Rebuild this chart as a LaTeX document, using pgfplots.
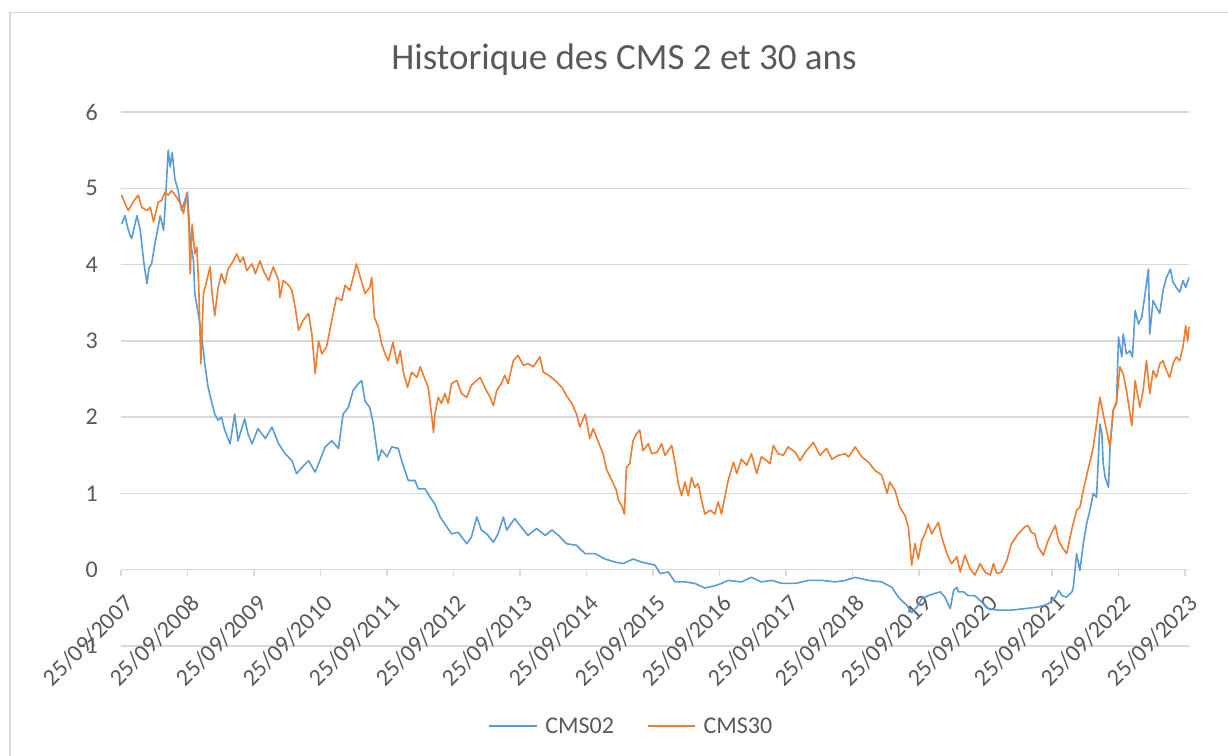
\documentclass[border=0pt]{standalone}
\usepackage{fontspec}
\setmainfont{Carlito}
\usepackage{pgfplots}
\pgfplotsset{compat=1.18}
\usepackage{pgfplotstable}
\definecolor{cmsblue}{HTML}{5B9BD5}
\definecolor{cmsorange}{HTML}{ED7D31}
\definecolor{gridgray}{HTML}{D9D9D9}
\definecolor{txtgray}{HTML}{595959}

% x = years since 25/09/2007
\pgfplotstableread{
x y
0.01 4.53
0.06 4.64
0.11 4.45
0.16 4.34
0.24 4.64
0.29 4.45
0.34 4.05
0.39 3.75
0.42 3.95
0.46 4.01
0.51 4.27
0.59 4.64
0.64 4.45
0.66 4.71
0.71 5.50
0.74 5.28
0.77 5.47
0.81 5.12
0.86 4.97
0.91 4.71
0.96 4.84
1.00 4.95
1.04 4.32
1.09 4.05
1.11 3.62
1.16 3.36
1.21 3.09
1.26 2.70
1.31 2.39
1.36 2.21
1.41 2.04
1.46 1.96
1.51 2.00
1.56 1.83
1.64 1.65
1.71 2.04
1.76 1.69
1.86 1.98
1.91 1.78
1.97 1.65
2.06 1.85
2.17 1.72
2.27 1.87
2.37 1.65
2.47 1.52
2.57 1.43
2.64 1.26
2.72 1.34
2.82 1.43
2.92 1.28
2.99 1.43
3.07 1.61
3.17 1.69
3.27 1.59
3.34 2.04
3.42 2.13
3.49 2.35
3.57 2.44
3.62 2.48
3.67 2.21
3.74 2.13
3.79 1.93
3.87 1.43
3.92 1.57
4.00 1.48
4.07 1.61
4.17 1.59
4.22 1.43
4.32 1.17
4.42 1.17
4.47 1.06
4.57 1.06
4.65 0.95
4.72 0.86
4.80 0.69
4.87 0.60
4.97 0.47
5.07 0.49
5.20 0.34
5.27 0.43
5.35 0.69
5.42 0.52
5.50 0.47
5.60 0.36
5.67 0.47
5.75 0.69
5.80 0.52
5.92 0.67
6.00 0.58
6.12 0.45
6.25 0.54
6.38 0.45
6.48 0.52
6.58 0.45
6.70 0.34
6.85 0.32
6.98 0.21
7.13 0.21
7.28 0.14
7.43 0.10
7.55 0.08
7.70 0.14
7.83 0.10
7.98 0.07
8.03 0.06
8.11 -0.05
8.23 -0.03
8.33 -0.16
8.48 -0.16
8.63 -0.18
8.78 -0.24
8.93 -0.21
9.03 -0.18
9.13 -0.14
9.33 -0.16
9.48 -0.10
9.63 -0.16
9.79 -0.14
9.94 -0.18
10.14 -0.18
10.34 -0.14
10.54 -0.14
10.74 -0.16
10.89 -0.14
11.04 -0.10
11.24 -0.14
11.44 -0.16
11.59 -0.23
11.69 -0.36
11.82 -0.47
11.89 -0.56
11.97 -0.49
12.04 -0.38
12.09 -0.36
12.14 -0.34
12.24 -0.31
12.32 -0.29
12.39 -0.36
12.47 -0.51
12.52 -0.27
12.57 -0.23
12.59 -0.29
12.67 -0.29
12.74 -0.34
12.84 -0.34
12.94 -0.42
13.04 -0.51
13.19 -0.53
13.39 -0.53
13.59 -0.51
13.79 -0.49
13.94 -0.45
14.05 -0.36
14.10 -0.27
14.15 -0.34
14.22 -0.36
14.30 -0.29
14.32 -0.23
14.37 0.21
14.42 -0.01
14.47 0.34
14.52 0.60
14.57 0.78
14.62 1.00
14.67 0.95
14.70 1.52
14.72 1.91
14.75 1.78
14.77 1.39
14.80 1.21
14.85 1.08
14.87 1.56
14.92 2.09
14.97 2.20
15.00 3.05
15.05 2.79
15.07 3.09
15.12 2.83
15.17 2.87
15.21 2.79
15.25 3.40
15.30 3.22
15.35 3.31
15.40 3.62
15.45 3.94
15.47 3.09
15.52 3.53
15.57 3.44
15.62 3.36
15.67 3.66
15.72 3.83
15.78 3.94
15.82 3.77
15.87 3.70
15.92 3.64
15.97 3.79
16.01 3.70
16.06 3.83
}\cmsdeux

\pgfplotstableread{
x y
0.01 4.91
0.06 4.80
0.11 4.71
0.18 4.82
0.26 4.91
0.31 4.75
0.39 4.71
0.44 4.75
0.49 4.56
0.56 4.82
0.61 4.84
0.66 4.95
0.71 4.91
0.76 4.97
0.84 4.88
0.89 4.80
0.94 4.67
0.99 4.93
1.02 4.53
1.04 3.88
1.07 4.53
1.11 4.14
1.14 4.23
1.17 3.70
1.20 2.70
1.24 3.62
1.29 3.79
1.34 3.97
1.37 3.62
1.41 3.33
1.46 3.70
1.51 3.88
1.56 3.75
1.61 3.94
1.69 4.05
1.74 4.14
1.79 4.03
1.84 4.10
1.89 3.92
1.97 4.01
2.02 3.88
2.09 4.05
2.14 3.92
2.22 3.79
2.29 3.97
2.37 3.79
2.39 3.57
2.44 3.79
2.52 3.73
2.57 3.66
2.62 3.44
2.67 3.14
2.74 3.27
2.82 3.36
2.87 3.09
2.92 2.57
2.97 3.00
3.02 2.83
3.09 2.92
3.17 3.27
3.24 3.57
3.32 3.53
3.37 3.73
3.44 3.66
3.49 3.83
3.54 4.01
3.59 3.86
3.67 3.62
3.74 3.70
3.77 3.83
3.81 3.31
3.87 3.18
3.92 2.96
3.97 2.83
4.02 2.74
4.09 2.98
4.15 2.70
4.20 2.87
4.25 2.57
4.31 2.39
4.37 2.59
4.45 2.52
4.50 2.66
4.57 2.50
4.62 2.39
4.65 2.18
4.70 1.80
4.72 2.04
4.77 2.26
4.82 2.18
4.87 2.31
4.92 2.18
4.97 2.44
5.05 2.48
5.12 2.31
5.20 2.26
5.27 2.42
5.40 2.52
5.47 2.39
5.55 2.26
5.60 2.15
5.65 2.35
5.72 2.44
5.77 2.55
5.82 2.44
5.90 2.74
5.97 2.81
6.05 2.68
6.12 2.70
6.20 2.66
6.30 2.79
6.35 2.59
6.43 2.55
6.53 2.48
6.63 2.39
6.70 2.28
6.78 2.18
6.85 2.04
6.90 1.87
6.98 2.04
7.05 1.72
7.10 1.85
7.18 1.67
7.25 1.52
7.30 1.32
7.38 1.17
7.45 1.04
7.48 0.91
7.53 0.84
7.57 0.73
7.60 1.34
7.65 1.39
7.70 1.69
7.75 1.78
7.80 1.83
7.85 1.56
7.93 1.65
7.98 1.52
8.06 1.54
8.13 1.65
8.18 1.50
8.23 1.56
8.28 1.63
8.33 1.41
8.38 1.13
8.43 0.97
8.48 1.15
8.53 0.97
8.58 1.21
8.63 1.08
8.68 1.13
8.73 0.91
8.78 0.73
8.86 0.78
8.93 0.73
8.98 0.89
9.03 0.73
9.08 0.95
9.13 1.17
9.21 1.41
9.26 1.26
9.33 1.45
9.41 1.37
9.48 1.52
9.56 1.26
9.63 1.48
9.71 1.43
9.76 1.39
9.81 1.63
9.88 1.52
9.96 1.50
10.03 1.61
10.14 1.54
10.21 1.43
10.29 1.54
10.41 1.67
10.51 1.50
10.61 1.59
10.69 1.45
10.79 1.50
10.89 1.52
10.94 1.48
11.04 1.61
11.14 1.48
11.24 1.41
11.34 1.30
11.44 1.24
11.52 1.00
11.56 1.15
11.64 1.04
11.71 0.82
11.79 0.71
11.84 0.56
11.89 0.06
11.94 0.34
11.99 0.14
12.04 0.38
12.09 0.47
12.14 0.60
12.19 0.47
12.29 0.62
12.34 0.43
12.42 0.21
12.49 0.08
12.57 0.17
12.62 -0.03
12.69 0.19
12.77 0.01
12.84 -0.07
12.92 0.08
12.99 -0.03
13.07 -0.07
13.12 0.08
13.17 -0.05
13.24 -0.03
13.32 0.12
13.39 0.34
13.49 0.47
13.59 0.56
13.64 0.58
13.69 0.49
13.74 0.47
13.79 0.30
13.87 0.19
13.94 0.38
14.05 0.58
14.10 0.38
14.15 0.30
14.22 0.21
14.30 0.54
14.37 0.78
14.42 0.82
14.47 1.04
14.55 1.34
14.60 1.52
14.62 1.61
14.67 1.91
14.72 2.26
14.77 2.04
14.82 1.83
14.87 1.61
14.92 2.09
14.97 2.18
15.02 2.66
15.07 2.57
15.12 2.35
15.20 1.89
15.25 2.48
15.32 2.13
15.37 2.35
15.42 2.74
15.47 2.31
15.52 2.61
15.57 2.52
15.62 2.70
15.67 2.74
15.72 2.61
15.77 2.52
15.82 2.70
15.87 2.79
15.92 2.74
15.97 2.92
16.01 3.20
16.04 3.00
16.06 3.18
}\cmstrente

\begin{document}
\begin{tikzpicture}
\useasboundingbox (0pt,0pt) rectangle (1228pt,755pt);
\draw[gridgray, line width=1.3pt] (10pt,-10pt) -- (10pt,742.3pt) -- (1240pt,742.3pt);
\node[anchor=base, text=txtgray, inner sep=0pt, font=\fontsize{37}{44}\selectfont] at (624pt,685pt) {Historique des CMS 2 et 30 ans};
\begin{axis}[
  at={(121pt,109pt)}, anchor=south west, scale only axis,
  width=1068.3pt, height=534pt,
  xmin=0, xmax=16.065, ymin=-1, ymax=6,
  axis x line*=middle, axis y line*=left,
  hide obscured x ticks=false, hide obscured y ticks=false,
  y axis line style={draw=none},
  x axis line style={gridgray, line width=1.3pt},
  ymajorgrids, major grid style={gridgray, line width=1.3pt},
  ytick={-1,0,1,2,3,4,5,6}, yticklabels={-1,0,1,2,3,4,5,6},
  ytick style={draw=none},
  xtick={0,1,2,3,4,5,6,7,8,9,10,11,12,13,14,15,16},
  xticklabels={25/09/2007,25/09/2008,25/09/2009,25/09/2010,25/09/2011,25/09/2012,25/09/2013,25/09/2014,25/09/2015,25/09/2016,25/09/2017,25/09/2018,25/09/2019,25/09/2020,25/09/2021,25/09/2022,25/09/2023},
  xtick style={gridgray, line width=1.3pt},
  major tick length=6.5pt,
  xtick align=outside,
  tick label style={text=txtgray, font=\fontsize{24}{28}\selectfont},
  yticklabel style={anchor=east, inner sep=0pt, xshift=-23pt},
  xticklabel style={xshift=2pt, yshift=-17pt, rotate=45, anchor=north east, inner sep=0pt},
  legend columns=2,
  legend style={at={(0.344,-0.15)}, anchor=west, draw=none, fill=none,
    font=\fontsize{24}{28}\selectfont, text=txtgray, inner sep=0pt,
    nodes={inner xsep=8pt, inner ysep=0pt},
    /tikz/every even column/.append style={column sep=25pt}},
  legend image code/.code={\draw[#1] (0pt,0pt) -- (47pt,0pt);},
  clip=false,
]
\addplot[cmsblue, line width=1.6pt, line join=round] table[x=x,y=y] {\cmsdeux};
\addlegendentry{CMS02}
\addplot[cmsorange, line width=1.6pt, line join=round] table[x=x,y=y] {\cmstrente};
\addlegendentry{CMS30}
\end{axis}
\end{tikzpicture}
\end{document}
